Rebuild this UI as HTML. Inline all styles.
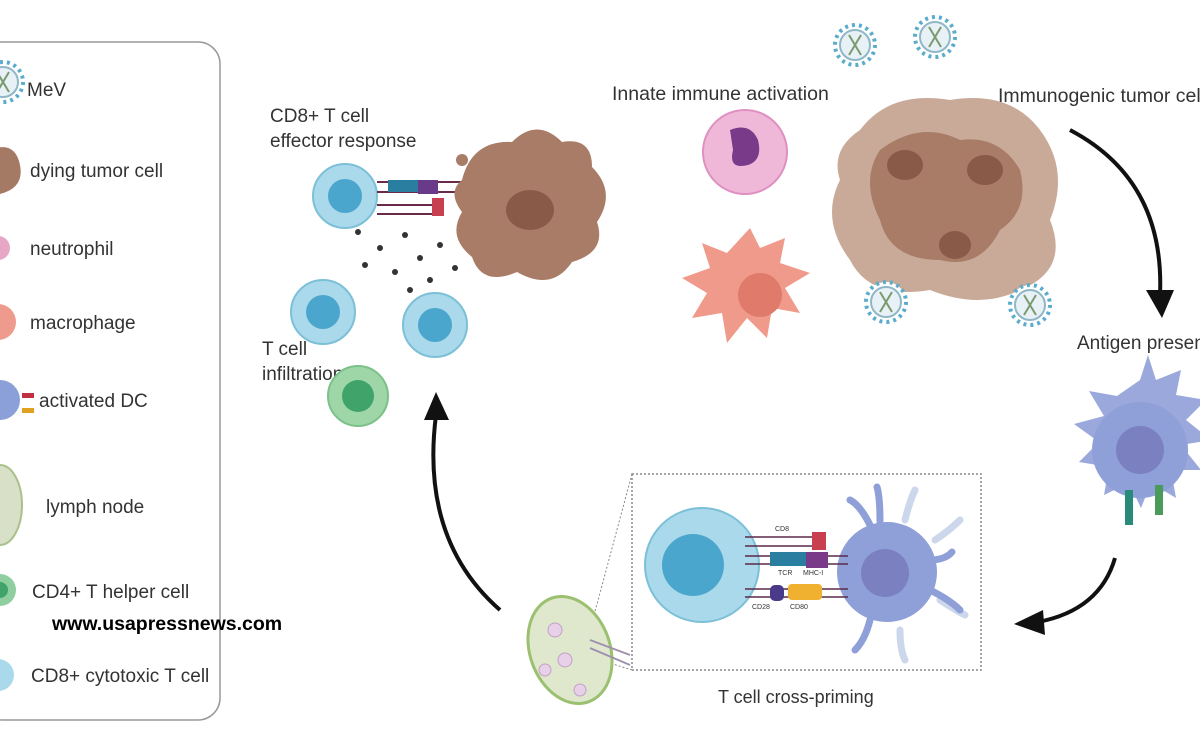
<!DOCTYPE html>
<html><head><meta charset="utf-8"><style>
body{margin:0;background:#fff;width:1200px;height:738px;overflow:hidden}
svg text{font-family:"Liberation Sans",sans-serif;fill:#333}
</style></head><body>
<svg width="1200" height="738" viewBox="0 0 1200 738" xmlns="http://www.w3.org/2000/svg">
<defs>
<g id="vir"><circle r="20" fill="#fff" stroke="#5aaccc" stroke-width="4" stroke-dasharray="3 4"/><circle r="15" fill="#e8f2f6" stroke="#8fb7c8" stroke-width="2"/><path d="M-6 -10 L6 10 M6 -10 L-6 10" stroke="#7a9a70" stroke-width="2"/></g>
<g id="tc"><circle r="32" fill="#a9d9ea" stroke="#7cc0d8" stroke-width="2"/><circle r="17" fill="#4aa6cc"/></g>
</defs>
<!-- legend -->
<rect x="-20" y="42" width="240" height="678" rx="22" fill="#fff" stroke="#999" stroke-width="1.5"/>
<use href="#vir" x="3" y="82"/>
<path d="M-10 150 q25 -10 30 15 q5 25 -25 30z" fill="#a57a65"/>
<circle cx="-2" cy="248" r="12" fill="#e6a6c6"/>
<circle cx="-2" cy="322" r="18" fill="#ee9a8c"/>
<circle cx="0" cy="400" r="20" fill="#8b9fd8"/><rect x="22" y="393" width="12" height="5" fill="#c03040"/><rect x="22" y="408" width="12" height="5" fill="#e0a020"/>
<ellipse cx="0" cy="505" rx="22" ry="40" fill="#d8e0c8" stroke="#a9c08a" stroke-width="2"/>
<circle cx="0" cy="590" r="16" fill="#8fcf9f"/><circle cx="0" cy="590" r="8" fill="#3fa36a"/>
<circle cx="-2" cy="675" r="16" fill="#a9d9ea"/>
<g font-size="19">
<text x="27" y="96">MeV</text>
<text x="30" y="177">dying tumor cell</text>
<text x="30" y="255">neutrophil</text>
<text x="30" y="329">macrophage</text>
<text x="39" y="407">activated DC</text>
<text x="46" y="513">lymph node</text>
<text x="32" y="598">CD4+ T helper cell</text>
<text x="31" y="682">CD8+ cytotoxic T cell</text>
</g>
<text x="52" y="630" font-size="19.5" font-weight="bold" style="fill:#000">www.usapressnews.com</text>

<g font-size="19"><text x="270" y="122">CD8+ T cell</text><text x="270" y="147">effector response</text>
<text x="262" y="355">T cell</text><text x="262" y="380">infiltration</text>
<text x="612" y="100" font-size="19.5">Innate immune activation</text>
<text x="998" y="102" font-size="19.5">Immunogenic tumor cel</text>
<text x="1077" y="349">Antigen presen</text>
<text x="718" y="703" font-size="18">T cell cross-priming</text></g>
<use href="#tc" x="345" y="196"/>
<use href="#tc" x="323" y="312"/>
<use href="#tc" x="435" y="325"/>
<circle cx="358" cy="396" r="30" fill="#9fd6a8" stroke="#7cc08a" stroke-width="2"/><circle cx="358" cy="396" r="16" fill="#3fa36a"/>
<path d="M377 182 H470 M377 192 H470 M377 205 H440 M377 214 H440" stroke="#6a2a4a" stroke-width="2"/>
<rect x="388" y="180" width="30" height="12" fill="#2a7fa0"/><rect x="418" y="180" width="20" height="14" fill="#6a3a8a"/><rect x="432" y="198" width="12" height="18" fill="#c84050"/>
<path d="M462 180 q10 -40 50 -38 q25 -25 50 0 q30 -5 30 25 q25 25 5 55 q10 30 -25 40 q-20 30 -55 10 q-35 15 -45 -15 q-25 -20 -10 -45 q-15 -20 0 -32z" fill="#a87c66"/>
<ellipse cx="530" cy="210" rx="24" ry="20" fill="#8a5a48"/>
<circle cx="462" cy="160" r="6" fill="#a87c66"/><circle cx="590" cy="225" r="7" fill="#a87c66"/><circle cx="470" cy="240" r="5" fill="#a87c66"/><circle cx="580" cy="150" r="5" fill="#a87c66"/>
<g fill="#333"><circle cx="358" cy="232" r="3"/><circle cx="380" cy="248" r="3"/><circle cx="405" cy="235" r="3"/><circle cx="420" cy="258" r="3"/><circle cx="395" cy="272" r="3"/><circle cx="440" cy="245" r="3"/><circle cx="365" cy="265" r="3"/><circle cx="430" cy="280" r="3"/><circle cx="410" cy="290" r="3"/><circle cx="455" cy="268" r="3"/></g>

<circle cx="745" cy="152" r="42" fill="#f0b8d8" stroke="#e090c0" stroke-width="2"/>
<path d="M730 130 q20 -8 28 10 q5 20 -10 25 q-20 5 -15 -15z" fill="#7a3a8a"/>
<path d="M750 228 l10 20 l25 -10 l-5 25 l30 10 l-25 15 l15 25 l-28 -5 l-5 30 l-20 -20 l-20 25 l-5 -30 l-30 5 l15 -25 l-25 -15 l28 -10 l-8 -25 l25 10z" fill="#ef9a8a"/>
<circle cx="760" cy="295" r="22" fill="#e07a6a"/>

<path d="M860 130 q30 -40 90 -30 q60 -10 90 30 q30 40 10 90 q20 50 -30 70 q-40 20 -90 0 q-60 10 -80 -30 q-30 -40 -10 -80 q-10 -30 20 -50z" fill="#c9aa98"/>
<path d="M880 150 q40 -30 80 -10 q40 -5 60 30 q10 40 -20 60 q-20 40 -60 30 q-50 0 -60 -40 q-20 -40 0 -70z" fill="#a87c66"/>
<ellipse cx="905" cy="165" rx="18" ry="15" fill="#8a5a48"/><ellipse cx="985" cy="170" rx="18" ry="15" fill="#8a5a48"/><ellipse cx="955" cy="245" rx="16" ry="14" fill="#8a5a48"/>
<use href="#vir" x="855" y="45"/><use href="#vir" x="935" y="37"/><use href="#vir" x="886" y="302"/><use href="#vir" x="1030" y="305"/>
<path d="M1070 130 Q1165 180 1160 295" fill="none" stroke="#111" stroke-width="4"/>
<path d="M1146 290 L1162 318 L1174 290z" fill="#111"/>

<path d="M1140 380 l8 -25 l8 25 l25 -10 l-5 25 l30 5 l-20 20 l25 20 l-30 5 l20 25 l-30 0 l5 28 l-25 -15 l-10 25 l-12 -25 l-25 12 l5 -28 l-30 -5 l20 -20 l-25 -18 l30 -8 l-15 -25 l28 5z" fill="#9aa8dc"/>
<circle cx="1140" cy="450" r="48" fill="#8f9fd8"/><circle cx="1140" cy="450" r="24" fill="#7a80c0"/>
<rect x="1125" y="490" width="8" height="35" fill="#2a8a7a"/><rect x="1155" y="485" width="8" height="30" fill="#4a9a5a"/>
<path d="M1115 558 Q1100 610 1038 622" fill="none" stroke="#111" stroke-width="4"/>
<path d="M1043 610 L1014 624 L1045 635z" fill="#111"/>

<rect x="632" y="474" width="349" height="196" fill="none" stroke="#888" stroke-width="1.5" stroke-dasharray="2 2"/>
<path d="M632 474 L590 630 M632 670 L600 660" stroke="#888" stroke-width="1" stroke-dasharray="2 2"/>
<circle cx="702" cy="565" r="57" fill="#a9d9ea" stroke="#7cc0d8" stroke-width="2"/><circle cx="693" cy="565" r="31" fill="#4aa6cc"/>
<g stroke="#9ab0d8" stroke-width="7" fill="none" stroke-linecap="round" opacity="0.5"><path d="M905 520 q5 -20 10 -30"/><path d="M935 540 q15 -10 25 -20"/><path d="M940 600 q15 10 25 15"/><path d="M900 630 q0 20 5 30"/></g>
<circle cx="887" cy="572" r="50" fill="#8f9fd8"/><circle cx="885" cy="573" r="24" fill="#7a80c0"/>
<g stroke="#8f9fd8" stroke-width="7" fill="none" stroke-linecap="round"><path d="M870 525 q-10 -20 -20 -25"/><path d="M880 522 q0 -25 -3 -35"/><path d="M930 560 q15 0 22 -8"/><path d="M930 590 q20 10 30 20"/><path d="M870 620 q-5 20 -15 30"/></g>
<path d="M745 537 H822 M745 546 H822 M745 556 H848 M745 564 H848 M745 589 H848 M745 597 H848" stroke="#5a2a4a" stroke-width="1.5"/>
<rect x="812" y="532" width="14" height="18" fill="#c84050"/>
<rect x="770" y="552" width="36" height="14" fill="#2a7fa0"/><rect x="806" y="552" width="22" height="16" fill="#7a3a8a"/>
<rect x="770" y="585" width="14" height="16" rx="5" fill="#4a3a8a"/><rect x="788" y="584" width="34" height="16" rx="4" fill="#f0b030"/>
<g font-size="7" style="fill:#444"><text x="775" y="531">CD8</text><text x="778" y="575">TCR</text><text x="803" y="575">MHC-I</text><text x="752" y="609">CD28</text><text x="790" y="609">CD80</text></g>

<ellipse cx="570" cy="650" rx="40" ry="55" fill="#dfe8cc" stroke="#9ac070" stroke-width="3" transform="rotate(-20 570 650)"/>
<g fill="#e8d0e8" stroke="#c0a0c8"><circle cx="555" cy="630" r="7"/><circle cx="565" cy="660" r="7"/><circle cx="580" cy="690" r="6"/><circle cx="545" cy="670" r="6"/></g>
<path d="M590 640 L630 655 M590 648 L630 665" stroke="#a090b0" stroke-width="2"/>
<path d="M500 610 Q420 540 436 415" fill="none" stroke="#111" stroke-width="4"/>
<path d="M424 420 L436 392 L449 420z" fill="#111"/>
</svg>
</body></html>
